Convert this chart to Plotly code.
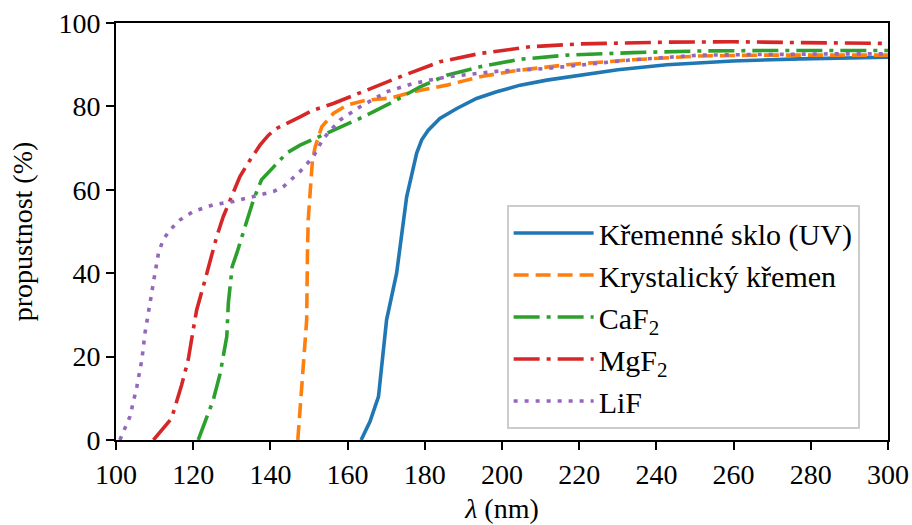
import plotly.graph_objects as go

names = ["Křemenné sklo (UV)", "Krystalický křemen", "CaF<sub>2</sub>", "MgF<sub>2</sub>", "LiF"]

x_sklo = [163.5, 165.8, 168, 169.3, 170.1, 172.7, 175.3, 177.9, 179.2, 180.9, 183.9, 188.3, 193.4, 198.6,
          204.7, 211.6, 220.2, 230, 242.7, 259.8, 277.2, 300]
y_sklo = [0, 4.4, 10.4, 20.8, 28.8, 40, 58.3, 68.8, 72, 74.3, 77.1, 79.5, 81.9, 83.5,
          85.1, 86.3, 87.5, 88.8, 90.0, 90.9, 91.4, 91.8]

x_krystal = [147.1, 148.1, 148.7, 149.4, 149.6, 149.8, 150.4, 150.9, 151.6, 153.3, 156.3, 159.8, 164.9,
             171, 177, 185.7, 194.3, 203, 216.8, 234, 251.3, 268.6, 289.3, 300]
y_krystal = [0, 12.8, 20.8, 28.8, 44.8, 52.8, 60.7, 67.1, 70.3, 75.1, 78.3, 80.3, 81.5,
             82, 83.5, 85.1, 87.1, 88.5, 90, 91.2, 92.1, 92.3, 92.3, 92.3]

x_caf2 = [121.3, 123.5, 125.2, 127, 128, 128.7, 129.1, 129.5, 130.1, 131.3, 132.6, 133.9, 135.6, 137.7,
          140.8, 144.2, 147.7, 152, 157.2, 164.1, 171.8, 178.8, 185.7, 194.3, 204.7, 216.8, 234, 251.3,
          268.6, 300]
y_caf2 = [0, 5.2, 9.6, 16, 20.8, 24.8, 32.8, 36.8, 41.6, 44.8, 48.8, 52.8, 57.6, 62.4,
          65.5, 68.8, 70.7, 72.5, 74.7, 77.5, 81.1, 84.7, 87.5, 89.5, 91.3, 92.3, 92.9, 93.3,
          93.4, 93.4]

x_mgf2 = [109.7, 114.4, 117, 118.7, 120, 120.9, 122.6, 124.4, 126.1, 127.8, 129.5, 132.1, 134.7, 137.3,
          139.5, 141.6, 147.7, 151.1, 156.3, 164.9, 173.6, 183.9, 194.3, 207.3, 220.2, 242.7, 259.8,
          277.2, 300]
y_mgf2 = [0, 5.2, 13.2, 19.2, 26.4, 31.2, 36.8, 43.2, 48.8, 53.6, 57.6, 63.2, 67.1, 70.7,
          73.1, 74.7, 77.5, 79.1, 80.7, 83.9, 87.1, 90.7, 92.7, 94.3, 95, 95.4, 95.5,
          95.3, 95.1]

x_lif = [101, 103.6, 105.4, 106.7, 107.5, 108.6, 109.2, 110.1, 111, 112.2, 114, 116.6, 120, 125.2,
         130.4, 135.6, 140.8, 143.3, 147.7, 151.1, 153.7, 158, 163.2, 170.1, 177, 185.7, 198.6,
         211.6, 234, 251.3, 268.6, 285.9, 300]
y_lif = [0, 5.6, 12.8, 19.2, 25.6, 31.2, 35.2, 40, 44.8, 48, 50.4, 52.8, 54.8, 56.4,
         57.2, 58.4, 59.6, 60.7, 64.4, 67.9, 72.3, 76.7, 79.9, 83.5, 85.5, 87.1, 88.4,
         89.1, 91.2, 92.3, 92.5, 92.6, 92.6]

x_ticks = list(range(100, 301, 20))
y_ticks = list(range(0, 101, 20))

series = [(x_sklo, y_sklo), (x_krystal, y_krystal), (x_caf2, y_caf2), (x_mgf2, y_mgf2), (x_lif, y_lif)]
colors = ["#1f77b4", "#ff7f0e", "#2ca02c", "#d62728", "#9467bd"]
dashes = ["solid", "15px,7px", "26px,7px,4px,7px", "26px,7px,4px,7px", "4px,7px"]

FONT = "Liberation Serif"

fig = go.Figure()
for (xs, ys), name, c, d in zip(series, names, colors, dashes):
    fig.add_trace(go.Scatter(x=xs, y=ys, mode="lines", name=name,
                             line=dict(color=c, width=3.6, dash=d)))

axis_common = dict(showline=True, linecolor="black", linewidth=1.8, mirror=True,
                   ticks="outside", ticklen=8, tickwidth=1.6, tickcolor="black",
                   showgrid=False, zeroline=False, automargin=False,
                   tickfont=dict(family=FONT, size=28, color="black"))

fig.update_xaxes(range=[100, 300], tickvals=x_ticks, ticktext=[str(v) for v in x_ticks],
                 title=dict(text="<i>λ</i> (nm)", font=dict(family=FONT, size=28, color="black"), standoff=10),
                 **axis_common)
fig.update_yaxes(range=[0, 100], tickvals=y_ticks, ticktext=[str(v) for v in y_ticks],
                 title=dict(text="propustnost (%)", font=dict(family=FONT, size=28, color="black"), standoff=18),
                 **axis_common)

fig.update_layout(
    width=912, height=525,
    margin=dict(l=116, r=24, t=23, b=85),
    plot_bgcolor="white", paper_bgcolor="white",
    font=dict(family=FONT, size=28, color="black"),
    legend=dict(x=0.506, y=0.5635, xanchor="left", yanchor="top",
                bgcolor="white", bordercolor="#cccccc", borderwidth=2,
                font=dict(family=FONT, size=30, color="black"),
                itemwidth=80),
)

fig.write_html("out.html")
